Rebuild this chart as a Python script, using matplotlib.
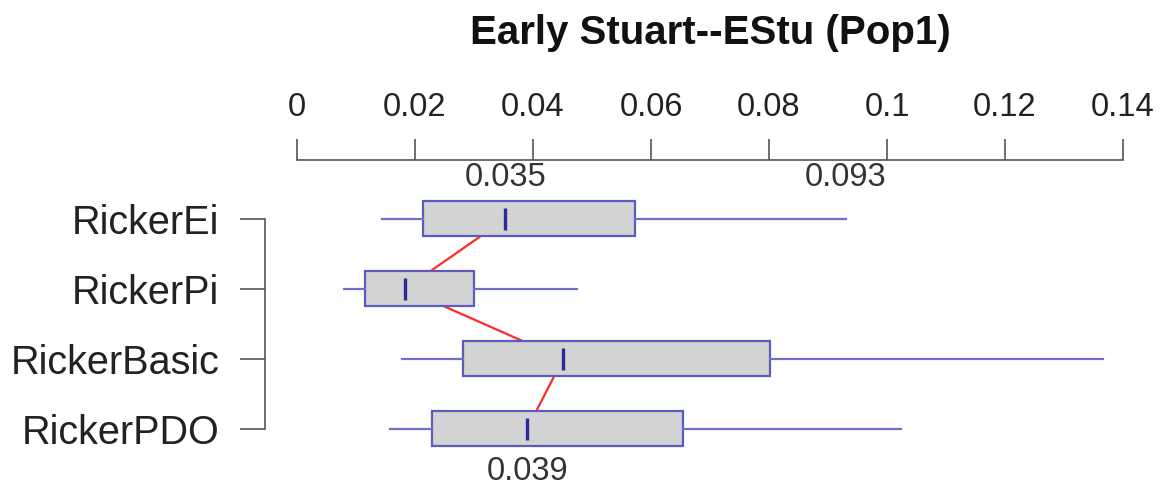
import matplotlib
matplotlib.use("Agg")
import matplotlib.pyplot as plt

plt.rcParams["font.family"] = ["Liberation Sans", "DejaVu Sans"]

# Datos de cada modelo
models = ["RickerEi", "RickerPi", "RickerBasic", "RickerPDO"]
whis_lo = [0.0144, 0.0080, 0.0178, 0.0158]
q1 = [0.0214, 0.0115, 0.0281, 0.0229]
medians = [0.0353, 0.0183, 0.0451, 0.0390]
q3 = [0.0573, 0.0300, 0.0802, 0.0654]
whis_hi = [0.0930, 0.0475, 0.1366, 0.1024]
xticks = [0, 0.02, 0.04, 0.06, 0.08, 0.1, 0.12, 0.14]
xtick_labels = ["0", "0.02", "0.04", "0.06", "0.08", "0.1", "0.12", "0.14"]

# Etiquetas de valores (texto, valor, posición vertical)
notes = [("0.035", medians[0], 0.40), ("0.093", whis_hi[0], 0.40), ("0.039", medians[3], 4.61)]

W, H = 1165, 491
fig = plt.figure(figsize=(W / 100, H / 100), dpi=100)
ax = fig.add_axes([297 / W, 1 - 480 / H, (1123 - 297) / W, (480 - 160) / H])

rows = list(range(1, len(models) + 1))
stats = []
for i in range(len(models)):
    stats.append({"whislo": whis_lo[i], "q1": q1[i], "med": medians[i],
                  "q3": q3[i], "whishi": whis_hi[i], "fliers": []})

edge = "#5c5cc0"
ax.bxp(stats, positions=rows, vert=False, widths=0.5, patch_artist=True,
       showcaps=False, showfliers=False,
       boxprops=dict(facecolor="#d3d3d3", edgecolor=edge, linewidth=1.6),
       whiskerprops=dict(color="#7070cc", linewidth=1.6),
       medianprops=dict(linewidth=0), zorder=3)

# Mediana: trazo corto azul oscuro
ax.vlines(medians, [r - 0.16 for r in rows], [r + 0.16 for r in rows],
          color="#2a2a9a", linewidth=2.4, zorder=4)

# Líneas rojas que unen las medianas
ax.plot(medians, rows, color="#ff2a2a", linewidth=1.6, zorder=2)

for txt, xv, yv in notes:
    ax.text(xv, yv, txt, ha="center", va="center", fontsize=23.5, color="#333333")

ax.set_xlim(0, 0.14)
ax.set_ylim(4.73, 0.157)

# Eje superior estilo R
ax.xaxis.set_ticks_position("top")
ax.set_xticks(xticks)
ax.set_xticklabels(xtick_labels)
ax.tick_params(axis="x", direction="out", length=15, width=1.2, color="#555555",
               labelsize=23.5, pad=12, labelcolor="#222222")
for s in ["bottom", "right"]:
    ax.spines[s].set_visible(False)
ax.spines["top"].set_bounds(0, 0.14)
ax.spines["top"].set_color("#555555")
ax.spines["top"].set_linewidth(1.2)

# Eje izquierdo como corchete
ax.set_yticks(rows)
ax.set_yticklabels(models)
ax.spines["left"].set_bounds(1, 4)
ax.spines["left"].set_position(("outward", 23))
ax.spines["left"].set_color("#555555")
ax.spines["left"].set_linewidth(1.2)
ax.tick_params(axis="y", direction="out", length=18, width=1.2, color="#555555",
               labelsize=28.5, pad=15, labelcolor="#222222")

fig.text(710 / W, 1 - 33 / H, "Early Stuart--EStu (Pop1)", ha="center", va="center",
         fontsize=29, fontweight="bold", color="#111111")

fig.savefig("out.png", dpi=100)
